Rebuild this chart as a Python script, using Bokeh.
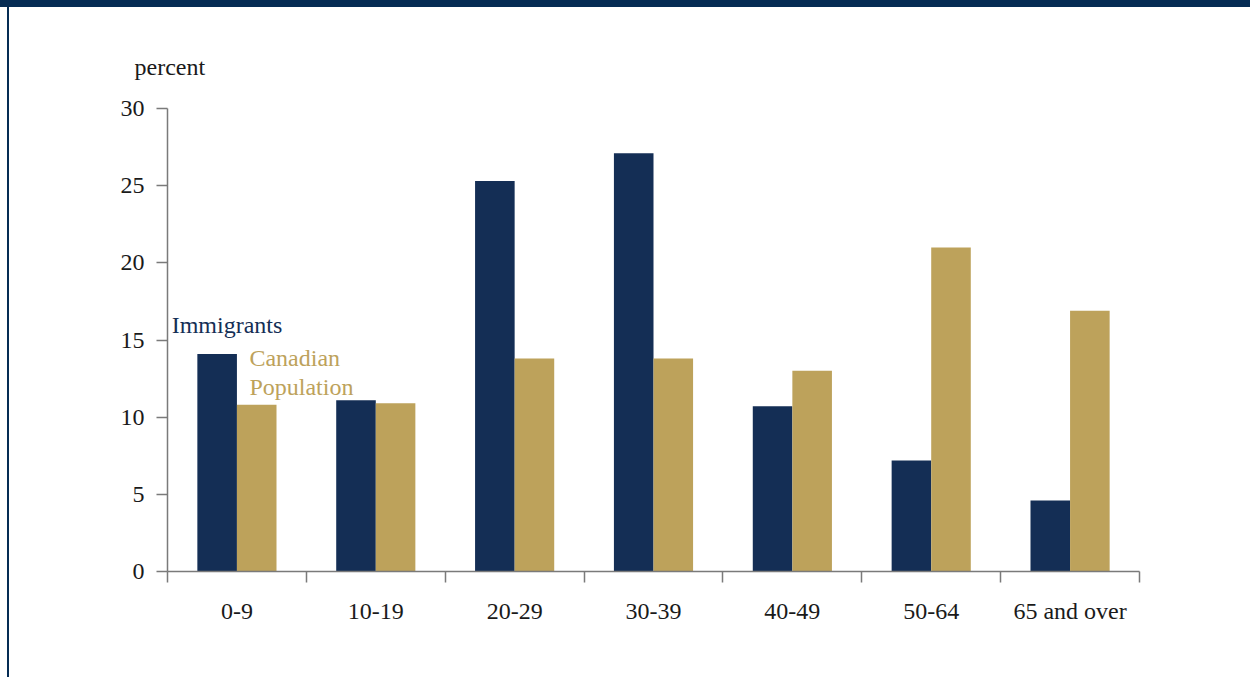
import numpy as np
from bokeh.plotting import figure
from bokeh.models import (ColumnDataSource, FixedTicker, LinearAxis, Label, Range1d)
from bokeh.embed import file_html
from bokeh.resources import INLINE

# ---- data ----
categories = ["0-9", "10-19", "20-29", "30-39", "40-49", "50-64", "65 and over"]
immigrants = [14.1, 11.1, 25.3, 27.1, 10.7, 7.2, 4.6]
canadian = [10.8, 10.9, 13.8, 13.8, 13.0, 21.0, 16.9]
y_ticks = [0, 5, 10, 15, 20, 25, 30]
series_names = ["Immigrants", "Canadian\nPopulation"]

NAVY = "#142e55"
GOLD = "#bda25b"
BAND = "#052c54"
FONT = "Liberation Serif"
FS = "24px"

n = len(categories)
centers = np.arange(n) + 0.5
bw = 0.285

src = ColumnDataSource(dict(
    x_imm=centers - bw / 2,
    x_can=centers + bw / 2,
    imm=immigrants,
    can=canadian,
))

p = figure(width=1250, height=677, output_backend="svg", toolbar_location=None,
           x_range=Range1d(0, n), y_range=Range1d(0, 30),
           x_axis_type=None, y_axis_type=None,
           min_border_left=167, min_border_right=111,
           min_border_top=108, min_border_bottom=106)
p.outline_line_color = None
p.xgrid.visible = False
p.ygrid.visible = False
p.background_fill_color = "white"
p.border_fill_alpha = 0
# decorative frame: dark band on top and thin line on the left
p.styles = {
    "background": ("linear-gradient(%s,%s) 0 0/100%% 7px no-repeat, "
                   "linear-gradient(%s,%s) 7px 0/2px 100%% no-repeat, white")
                  % (BAND, BAND, BAND, BAND)
}

p.vbar(x="x_imm", top="imm", width=bw, source=src, fill_color=NAVY, line_color=None)
p.vbar(x="x_can", top="can", width=bw, source=src, fill_color=GOLD, line_color=None)

AX = "#7a7a7a"
TXT = "#1a1a1a"
# y axis
ya = LinearAxis(ticker=FixedTicker(ticks=y_ticks, minor_ticks=[]))
ya.axis_line_color = AX
ya.axis_line_width = 1.5
ya.major_tick_line_color = AX
ya.major_tick_line_width = 1.5
ya.major_tick_out = 11
ya.major_tick_in = 0
ya.minor_tick_line_color = None
ya.major_label_standoff = 12
ya.major_label_text_font = FONT
ya.major_label_text_font_size = FS
ya.major_label_text_color = TXT
p.add_layout(ya, "left")

# x axis: labels at centers, tick marks at category boundaries
xa = LinearAxis(ticker=FixedTicker(ticks=list(centers), minor_ticks=list(range(n + 1))))
xa.major_label_overrides = {float(c): lab for c, lab in zip(centers, categories)}
xa.axis_line_color = AX
xa.axis_line_width = 1.5
xa.major_tick_line_color = None
xa.major_tick_out = 0
xa.major_tick_in = 0
xa.minor_tick_line_color = AX
xa.minor_tick_line_width = 1.5
xa.minor_tick_out = 11
xa.minor_tick_in = 0
xa.major_label_standoff = 15
xa.major_label_text_font = FONT
xa.major_label_text_font_size = FS
xa.major_label_text_color = TXT
p.add_layout(xa, "below")

# unit label as the title
p.title.text = "percent"
p.title.align = "left"
p.title.offset = -33
p.title.standoff = 58
p.title.text_font = FONT
p.title.text_font_size = FS
p.title.text_font_style = "normal"
p.title.text_color = TXT

# series labels
p.add_layout(Label(x=0.03, y=16.0, text=series_names[0], text_font=FONT,
                   text_font_size=FS, text_color=NAVY,
                   text_align="left", text_baseline="middle"))
p.add_layout(Label(x=0.59, y=12.9, text=series_names[1], text_font=FONT,
                   text_font_size=FS, text_color=GOLD,
                   text_align="left", text_baseline="middle", text_line_height=1.1))

open("out.html", "w").write(file_html(p, INLINE))
